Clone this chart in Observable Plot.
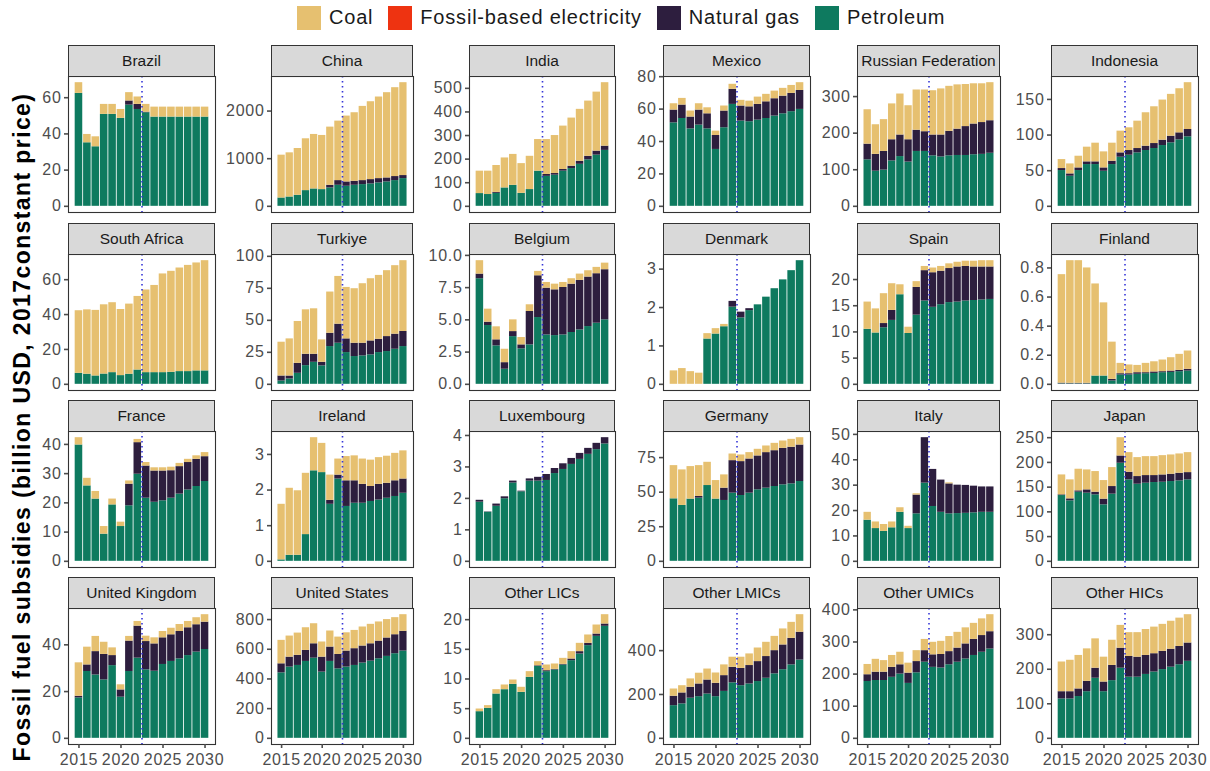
<!DOCTYPE html>
<html><head><meta charset="utf-8">
<script src="https://cdn.jsdelivr.net/npm/d3@7"></script>
<script src="https://cdn.jsdelivr.net/npm/@observablehq/plot@0.6"></script>
<style>
body{margin:0;background:#fff;font-family:"Liberation Sans",Arial,sans-serif;}
#chart{position:relative;width:1210px;height:771px;overflow:hidden;background:#fff;}
.strip{position:absolute;box-sizing:border-box;background:#d9d9d9;border:1px solid #333;font-size:15.5px;color:#1a1a1a;display:flex;align-items:center;justify-content:center;white-space:nowrap;}
.panel{position:absolute;}
.panel svg text{letter-spacing:0.7px;}
#ytitle{position:absolute;width:800px;height:28px;line-height:28px;left:-378px;top:413px;text-align:center;transform:rotate(-90deg);font-weight:bold;font-size:23px;letter-spacing:1.4px;color:#000;white-space:nowrap;}
#legend{position:absolute;top:1px;left:297px;}
#legend .lg-swatches{font-size:20px;letter-spacing:0.8px;font-family:"Liberation Sans",Arial,sans-serif;color:#1a1a1a;margin:0;display:flex;}
#legend .lg-swatch{margin-right:15px;}
#legend .lg-swatch > svg{margin-right:8px;}
</style></head><body><div id="chart"><div id="ytitle">Fossil fuel subsidies (billion USD, 2017constant price)</div><div id="legend"></div></div>
<script>
const years = [2015,2016,2017,2018,2019,2020,2021,2022,2023,2024,2025,2026,2027,2028,2029,2030];
const regions = ["Brazil","China","India","Mexico","Russian Federation","Indonesia",
  "South Africa","Turkiye","Belgium","Denmark","Spain","Finland",
  "France","Ireland","Luxembourg","Germany","Italy","Japan",
  "United Kingdom","United States","Other LICs","Other LMICs","Other UMICs","Other HICs"];
const legendFuels = ["Coal","Fossil-based electricity","Natural gas","Petroleum"];
const legendColors = ["#E6C070","#EE3311","#2D1E3E","#0E7A5F"];
const stackOrder = ["Petroleum","Natural gas","Fossil-based electricity","Coal"];
const projectionStart = 2022.5;
const xTicks = [2015,2020,2025,2030];

const petroleum = [
 [62.4,35.1,32.9,50.8,50.8,48.6,55.9,53.5,51.7,49.3,49.3,49.3,49.3,49.3,49.3,49.3],
 [175,196,232,330,365,351,386,442,421,442,456,470,491,512,540,582],
 [54,50,55,78,89,55,71,149,127,132,149,160,178,197,217,237],
 [51.5,54.2,47.8,50.1,47.8,35.1,48.5,62.9,52.6,52.2,53.2,54.2,55.7,57.1,58.4,59.8],
 [127,96,99,124,136,121,150,150,138,135,138,139,139,141,142,145],
 [50.2,42.2,50.2,58.6,58.6,49.2,58.6,68.9,71.7,75.0,78.3,81.1,85.3,89.1,93.3,97.5],
 [6.3,5.8,4.8,5.9,6.7,5.0,5.8,8.2,6.7,6.7,6.7,6.9,7.3,7.3,7.7,7.7],
 [2.6,4.2,8.6,14.6,17.2,14.4,29.5,32.1,24.8,21.7,22.2,23.0,24.8,25.6,27.4,29.5],
 [8.19,4.56,2.98,1.17,3.70,2.75,3.06,5.18,3.83,3.78,3.83,4.02,4.22,4.48,4.74,5.00],
 [0,0,0,0,1.18,1.31,1.50,2.01,1.73,1.92,2.07,2.27,2.49,2.72,2.96,3.22],
 [10.5,9.8,10.8,12.2,17.1,9.7,13.2,15.9,14.7,15.2,15.6,15.7,15.9,16.0,16.1,16.2],
 [0.003,0.003,0.003,0.003,0.057,0.057,0.023,0.064,0.064,0.069,0.073,0.075,0.080,0.082,0.087,0.091],
 [39.8,25.8,21.3,9.3,19.3,11.9,19.0,29.8,21.6,20.2,20.7,21.6,23.0,24.4,25.6,27.3],
 [0.04,0.17,0.17,0.75,2.54,2.49,1.60,2.31,1.54,1.63,1.63,1.68,1.72,1.77,1.82,1.91],
 [1.88,1.56,1.75,1.99,2.49,2.21,2.55,2.55,2.57,2.79,2.92,3.08,3.24,3.40,3.55,3.73],
 [45.2,40.4,45.0,45.7,54.8,45.0,44.0,49.3,47.6,49.3,51.7,52.9,54.1,55.3,56.0,57.7],
 [16.2,12.9,11.8,13.2,19.3,12.9,18.7,30.8,21.6,19.3,18.7,18.8,18.9,19.1,19.3,19.3],
 [133,122.3,139.8,137.8,134.4,114.2,135.8,198.3,164.7,155.9,157.9,159.3,159.9,161.3,162.6,164.7],
 [17.3,28.6,27.1,25.0,31.1,17.6,28.6,34.3,29.3,28.7,31.6,32.9,34.0,35.4,36.9,38.0],
 [441,480,491,518,540,446,518,468,480,491,507,520,536,552,570,588],
 [4.49,5.06,7.47,8.20,9.10,7.75,10.28,12.13,11.24,11.52,12.36,13.09,14.21,15.62,17.19,18.88],
 [149,157,183,190,202,190,214,253,240,248,259,274,294,313,335,357],
 [177,180,180,190,200,171,204,237,221,219,229,237,247,258,268,278],
 [114,114,121,135,174,135,167,203,177,177,185,192,199,206,213,223]
];
const naturalGas = [
 [0,0,0,0,0,0,2.3,2.8,0.3,0,0,0,0,0,0,0],
 [0,0,0,0,0,0,56,98,91,84,84,91,91,84,85,64],
 [0,0,4,0,0,0,0,0,8,7,7,10,13,15,17,18],
 [7.9,8.3,7.3,9.3,9.3,8.6,10.3,9.3,9.3,9.2,9.7,10.3,10.7,10.9,11.3,11.7],
 [43,46,51,58,59,61,58,54,57,60,67,72,79,84,87,89],
 [2.8,3.3,3.7,3.8,3.8,4.7,4.7,6.1,6.6,6.1,6.1,7.0,7.5,9.3,9.8,10.3],
 [0,0,0,0,0,0,0,0,0,0,0,0,0,0,0,0],
 [3.9,2.3,7.8,8.9,6.3,2.8,10.4,14.9,10.7,10.4,9.9,10.9,10.4,11.7,11.8,11.8],
 [0.36,0.26,0.47,0.51,0.39,0.31,2.59,3.24,3.63,3.55,3.68,3.75,3.84,3.84,3.84,3.89],
 [0,0,0,0,0,0,0,0.15,0.15,0.05,0,0,0,0,0,0],
 [0,0,0.8,1.9,0,0,5.3,5.8,6.6,6.4,6.5,6.7,6.6,6.4,6.3,6.2],
 [0.005,0.004,0.004,0.004,0,0,0.011,0.009,0.009,0.011,0.007,0.010,0.007,0.009,0.009,0.012],
 [0,0,0,0,0,0,7.4,10.8,11.0,10.7,10.2,9.4,9.4,9.4,9.3,8.5],
 [0,0,0,0,0,0,0.11,0.11,0.72,0.63,0.53,0.42,0.44,0.42,0.44,0.40],
 [0.06,0.01,0.07,0.06,0.06,0.02,0.07,0.12,0.19,0.16,0.18,0.19,0.19,0.19,0.20,0.20],
 [0,0,0,1.2,0,0,8.9,23.5,24.5,24.7,24.5,25.7,25.9,26.4,26.5,26.4],
 [0,0,0,0,0,0,7.4,17.9,14.6,12.7,11.8,11.2,11.0,10.5,10.0,10.0],
 [1.4,4,2.7,6.7,5.4,11.5,15.4,14.7,15.4,15.5,15.5,14.1,14.8,14.8,15.5,14.7],
 [0.7,2.8,10.0,10.9,4.3,3.1,13.0,13.7,12.1,11.7,11.4,11.4,11.7,11.9,11.7,11.7],
 [61,67,68,74,97,101,97,97,108,113,115,117,119,124,128,133],
 [0,0,0,0,0,0,0,0.1,0.16,0.1,0.1,0.28,0.40,0.39,0.39,0.39],
 [43,50,50,58,64,61,72,71,79,84,91,99,106,113,121,127],
 [21,26,26,31,29,32,35,36,39,42,41,44,47,50,52,54],
 [21,21,22,30,29,28,44,58,60,58,55,53,53,52,53,53]
];
const coal = [
 [5.9,4.6,5.5,5.5,5.5,4.9,4.6,4.1,4.3,5.5,5.5,5.5,5.5,5.5,5.5,5.5],
 [899,927,982,1088,1144,1137,1221,1249,1383,1439,1558,1635,1713,1790,1866,1950],
 [95,99,114,127,131,126,141,134,148,161,184,204,220,234,250,269],
 [3.9,4.1,3.7,3.9,3.7,2.7,3.1,3.1,3.5,3.5,4.5,4.6,4.7,4.8,4.9,4.8],
 [94,81,87,98,112,93,110,114,121,126,123,121,115,110,106,104],
 [12.6,14.0,16.4,20.6,26.2,22.5,25.3,30.5,31.9,38.4,46.9,51.6,56.3,58.7,61.9,65.7],
 [35.9,36.9,37.6,39.7,40.1,37.9,40.2,42.2,47.4,50.0,56.6,57.9,59.4,60.9,61.9,63.2],
 [26.4,29.0,32.7,34.7,35.5,17.5,32.2,37.3,40.2,42.6,46.5,48.6,49.9,51.5,53.5,55.3],
 [1.04,1.01,1.01,1.04,0.91,0.57,0.52,0.34,0.44,0.44,0.39,0.42,0.49,0.49,0.49,0.51],
 [0.35,0.41,0.33,0.29,0.14,0.14,0.06,0,0,0,0,0,0,0,0,0],
 [5.2,4.6,5.7,5.1,1.9,1.2,1.1,0.8,0.9,0.9,0.9,0.9,1.0,1.1,1.2,1.2],
 [0.746,0.843,0.843,0.793,0.633,0.503,0.256,0.071,0.060,0.050,0.064,0.070,0.080,0.092,0.110,0.126],
 [2.5,2.6,2.6,2.6,2.0,1.5,1.1,1.1,1.2,1.1,1.1,1.2,1.1,1.1,1.2,1.4],
 [1.56,1.88,1.81,1.72,0.93,0.82,0.71,0.45,0.68,0.70,0.71,0.74,0.75,0.76,0.77,0.79],
 [0,0,0,0,0,0,0,0,0,0,0,0,0,0,0,0],
 [24.0,25.7,23.5,22.3,16.8,13.4,9.6,4.8,4.8,4.6,4.8,4.8,5.3,5.3,5.7,5.3],
 [3.1,2.6,2.7,2.3,1.8,0.9,0.5,0,0,0,0.4,0,0,0,0,0],
 [40.3,38.4,43.7,40.3,41.7,37.6,38.3,37,39.7,38.3,38.3,38.3,39,39,39,40.4],
 [14.3,7.6,6.5,5.2,3.3,2.2,2.0,2.0,2.3,2.6,2.7,2.8,3.0,2.7,3.0,3.2],
 [158,142,150,153,135,102,108,117,123,123,128,131,129,124,115,112],
 [0.45,0.45,0.73,0.79,0.73,0.85,0.96,0.69,0.96,0.91,1.02,1.24,1.40,1.41,1.52,1.57],
 [33,33,38,49,50,47,49,46,51,53,62,65,65,73,73,80],
 [32,40,36,37,39,31,34,35,39,41,47,49,50,50,52,53],
 [86,91,97,94,85,72,73,66,69,71,75,77,78,81,82,82]
];
const yTicks = [
 [0,20,40,60],[0,1000,2000],[0,100,200,300,400,500],[0,20,40,60,80],[0,100,200,300],[0,50,100,150],
 [0,20,40,60],[0,25,50,75,100],[0,2.5,5,7.5,10],[0,1,2,3],[0,5,10,15,20],[0,0.2,0.4,0.6,0.8],
 [0,10,20,30,40],[0,1,2,3],[0,1,2,3,4],[0,25,50,75],[0,10,20,30,40,50],[0,50,100,150,200,250],
 [0,20,40],[0,200,400,600,800],[0,5,10,15,20],[0,200,400],[0,100,200,300,400],[0,100,200,300]
];
const oneDecimal = ["Belgium","Finland"];

const chart = document.getElementById("chart");
const legend = Plot.legend({
  color: {type: "ordinal", domain: legendFuels, range: legendColors},
  swatchSize: 24, className: "lg"
});
document.getElementById("legend").appendChild(legend);

const colLeft = [68,271,469,663,857,1051];
const colWidth = [147,142,146,147,143,147];
const rowTop = [45,223,400,577];
const stripH = 31, plotH = 136;
const mL = 52, mR = 2, mT = 1;

regions.forEach((name, i) => {
  const r = Math.floor(i / 6), c = i % 6;
  const rows = [];
  years.forEach((yr, j) => {
    rows.push({year: yr, fuel: "Petroleum", value: petroleum[i][j]});
    rows.push({year: yr, fuel: "Natural gas", value: naturalGas[i][j]});
    rows.push({year: yr, fuel: "Coal", value: coal[i][j]});
  });
  const M = d3.max(years, (_, j) => petroleum[i][j] + naturalGas[i][j] + coal[i][j]);
  const bottom = r === 3;
  const mB = bottom ? 34 : 1;
  const W = colWidth[c];
  const fmt = oneDecimal.includes(name) ? d3.format(".1f") : (d => String(d));

  const strip = document.createElement("div");
  strip.className = "strip";
  strip.style.left = colLeft[c] + "px";
  strip.style.top = rowTop[r] + "px";
  strip.style.width = W + "px";
  strip.style.height = (stripH + 1) + "px";
  strip.textContent = name;

  const marks = [
    Plot.rectY(rows, {x1: d => d.year - 0.45, x2: d => d.year + 0.45, y: "value", fill: "fuel", order: stackOrder}),
    Plot.ruleX([projectionStart], {stroke: "#3535d8", strokeWidth: 1.6, strokeDasharray: "1.6,3.4"}),
    Plot.frame({stroke: "#333", strokeWidth: 1.1}),
    Plot.axisY({ticks: yTicks[i], tickSize: 4, tickPadding: 3, tickFormat: fmt, label: null, strokeWidth: 1.6})
  ];
  if (bottom) marks.push(Plot.axisX({ticks: xTicks, tickSize: 4, tickPadding: 5, tickFormat: d => String(d), label: null, strokeWidth: 1.6}));

  const svg = Plot.plot({
    width: mL + W + mR, height: mT + plotH + mB,
    marginLeft: mL, marginRight: mR, marginTop: mT, marginBottom: mB,
    x: {domain: [2013.755, 2031.245], axis: null},
    y: {domain: [-0.05 * M, 1.05 * M], axis: null},
    color: {domain: legendFuels, range: legendColors},
    style: {fontSize: "16px", fontFamily: "'Liberation Sans', Arial, sans-serif", color: "#4d4d4d", background: "transparent", overflow: "visible"},
    marks
  });
  const wrap = document.createElement("div");
  wrap.className = "panel";
  wrap.style.left = (colLeft[c] - mL) + "px";
  wrap.style.top = (rowTop[r] + stripH - mT) + "px";
  wrap.appendChild(svg);
  chart.appendChild(wrap);
  chart.appendChild(strip);
});
</script></body></html>
